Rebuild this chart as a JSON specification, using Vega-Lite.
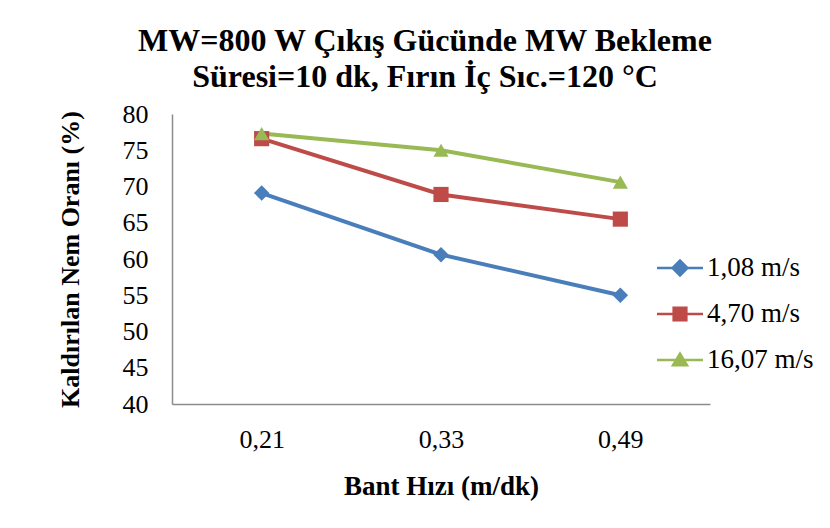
{
  "$schema": "https://vega.github.io/schema/vega-lite/v6.json",
  "autosize": {"type": "none"},
  "width": 538,
  "height": 290,
  "padding": {"left": 172, "top": 114, "right": 120, "bottom": 124},
  "background": "white",
  "config": {
    "view": {"stroke": null},
    "axis": {"grid": false, "ticks": false, "domainColor": "#8c8c8c", "domainWidth": 1.5, "labelColor": "#000", "titleColor": "#000", "labelFont": "Liberation Serif", "titleFont": "Liberation Serif"}
  },
  "title": {
    "text": ["MW=800 W Çıkış Gücünde MW Bekleme", "Süresi=10 dk, Fırın İç Sıc.=120 °C"],
    "fontSize": 32,
    "font": "Liberation Serif",
    "fontWeight": "bold",
    "color": "#000",
    "lineHeight": 36,
    "offset": 7,
    "dx": -16
  },
  "data": {
    "values": [
      {"bant": "0,21", "hiz": "1,08 m/s", "oran": 69.1},
      {"bant": "0,33", "hiz": "1,08 m/s", "oran": 60.6},
      {"bant": "0,49", "hiz": "1,08 m/s", "oran": 55.0},
      {"bant": "0,21", "hiz": "4,70 m/s", "oran": 76.6},
      {"bant": "0,33", "hiz": "4,70 m/s", "oran": 68.9},
      {"bant": "0,49", "hiz": "4,70 m/s", "oran": 65.5},
      {"bant": "0,21", "hiz": "16,07 m/s", "oran": 77.3},
      {"bant": "0,33", "hiz": "16,07 m/s", "oran": 75.0},
      {"bant": "0,49", "hiz": "16,07 m/s", "oran": 70.6}
    ]
  },
  "encoding": {
    "x": {
      "field": "bant", "type": "ordinal",
      "sort": ["0,21", "0,33", "0,49"],
      "scale": {"type": "point", "padding": 0.5},
      "axis": {"title": "Bant Hızı (m/dk)", "labelAngle": 0, "labelFontSize": 26, "labelPadding": 22, "titleFontSize": 27, "titleFontWeight": "bold", "titlePadding": 21}
    },
    "y": {
      "field": "oran", "type": "quantitative",
      "scale": {"domain": [40, 80], "nice": false, "zero": false},
      "axis": {"title": "Kaldırılan Nem Oranı (%)", "values": [40, 45, 50, 55, 60, 65, 70, 75, 80], "labelFontSize": 26, "labelPadding": 24, "titleFontSize": 26, "titleFontWeight": "bold", "titlePadding": 39}
    },
    "color": {
      "field": "hiz", "type": "nominal",
      "sort": ["1,08 m/s", "4,70 m/s", "16,07 m/s"],
      "scale": {"domain": ["1,08 m/s", "4,70 m/s", "16,07 m/s"], "range": ["#4a7ebb", "#be4b48", "#98b954"]},
      "legend": {
        "title": null,
        "orient": "none",
        "legendX": 485,
        "legendY": 131,
        "padding": 0,
        "rowPadding": 10,
        "symbolSize": 2116,
        "labelFontSize": 27,
        "labelFont": "Liberation Serif",
        "labelColor": "#000",
        "labelOffset": 4,
        "encode": {
          "symbols": {
            "update": {
              "shape": {"signal": "datum.value === '1,08 m/s' ? 'M-1,-0.05L1,-0.05L1,0.05L-1,0.05Z M0,-0.4L0.4,0L0,0.4L-0.4,0Z' : datum.value === '4,70 m/s' ? 'M-1,-0.05L1,-0.05L1,0.05L-1,0.05Z M-0.33,-0.33L0.33,-0.33L0.33,0.33L-0.33,0.33Z' : 'M-1,-0.05L1,-0.05L1,0.05L-1,0.05Z M0,-0.38L0.4,0.28L-0.4,0.28Z'"},
              "fill": {"signal": "scale('color', datum.value)"},
              "stroke": {"value": "transparent"},
              "strokeWidth": {"value": 0}
            }
          }
        }
      }
    }
  },
  "layer": [
    {"mark": {"type": "line", "strokeWidth": 4}},
    {
      "transform": [{"filter": "datum.hiz === '1,08 m/s'"}],
      "mark": {"type": "point", "filled": true, "opacity": 1, "size": 240, "shape": "diamond"}
    },
    {
      "transform": [{"filter": "datum.hiz === '4,70 m/s'"}],
      "mark": {"type": "point", "filled": true, "opacity": 1, "size": 230, "shape": "square"}
    },
    {
      "transform": [{"filter": "datum.hiz === '16,07 m/s'"}],
      "mark": {"type": "point", "filled": true, "opacity": 1, "size": 230, "shape": "triangle-up"}
    }
  ]
}
